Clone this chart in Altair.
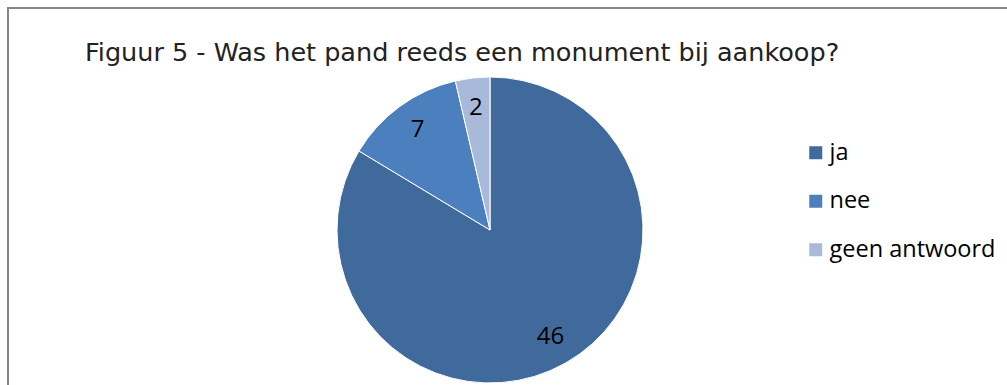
import altair as alt
import pandas as pd

categories = ["ja", "nee", "geen antwoord"]
values = [46, 7, 2]
order_idx = [0, 1, 2]
colors = ["#406A9C", "#4B7FBD", "#A9B9D9"]
title_text = "Figuur 5 - Was het pand reeds een monument bij aankoop?"

df = pd.DataFrame({"cat": categories, "value": values, "ord": order_idx})

# layout: view 300x300 centred at (490,230)
PL, PT = 340, 80

color = alt.Color(
    "cat:N",
    scale=alt.Scale(domain=categories, range=colors),
    sort=categories,
    legend=alt.Legend(
        title=None, orient="none", legendX=804 - PL, legendY=141 - PT,
        symbolType="square", symbolSize=169, symbolStrokeWidth=0,
        labelFontSize=23.5, labelFont="Open Sans", labelColor="black",
        rowPadding=23.5, labelOffset=2, labelLimit=400,
    ),
)

base = alt.Chart(df).encode(
    theta=alt.Theta("value:Q", stack=True),
    order=alt.Order("ord:Q"),
)
pie = base.mark_arc(outerRadius=153, stroke="white", strokeWidth=1).encode(color=color)
labels = base.mark_text(radius=123, fontSize=24, font="Open Sans", color="black").encode(text="value:Q")

title = alt.Chart(pd.DataFrame({"t": [title_text]})).mark_text(
    align="left", baseline="alphabetic", font="DejaVu Sans", fontSize=25.5, color="#222222"
).encode(text="t:N", x=alt.value(85 - PL), y=alt.value(61 - PT))

border_df = pd.DataFrame({"a": [0]})
top_line = alt.Chart(border_df).mark_rule(color="#868686", strokeWidth=2).encode(
    x=alt.value(7 - PL), x2=alt.value(1020 - PL), y=alt.value(8 - PT)
)
left_line = alt.Chart(border_df).mark_rule(color="#868686", strokeWidth=2).encode(
    x=alt.value(8 - PL), y=alt.value(7 - PT), y2=alt.value(400 - PT)
)

chart = alt.layer(top_line, left_line, title, pie, labels).properties(
    width=300, height=300,
    padding={"left": PL, "top": PT, "right": 1007 - PL - 300, "bottom": 385 - PT - 300},
    autosize=alt.AutoSizeParams(type="none"),
    background="white",
).configure_view(stroke=None)

chart.save("out.html", embed_options={"renderer": "svg", "actions": False})
